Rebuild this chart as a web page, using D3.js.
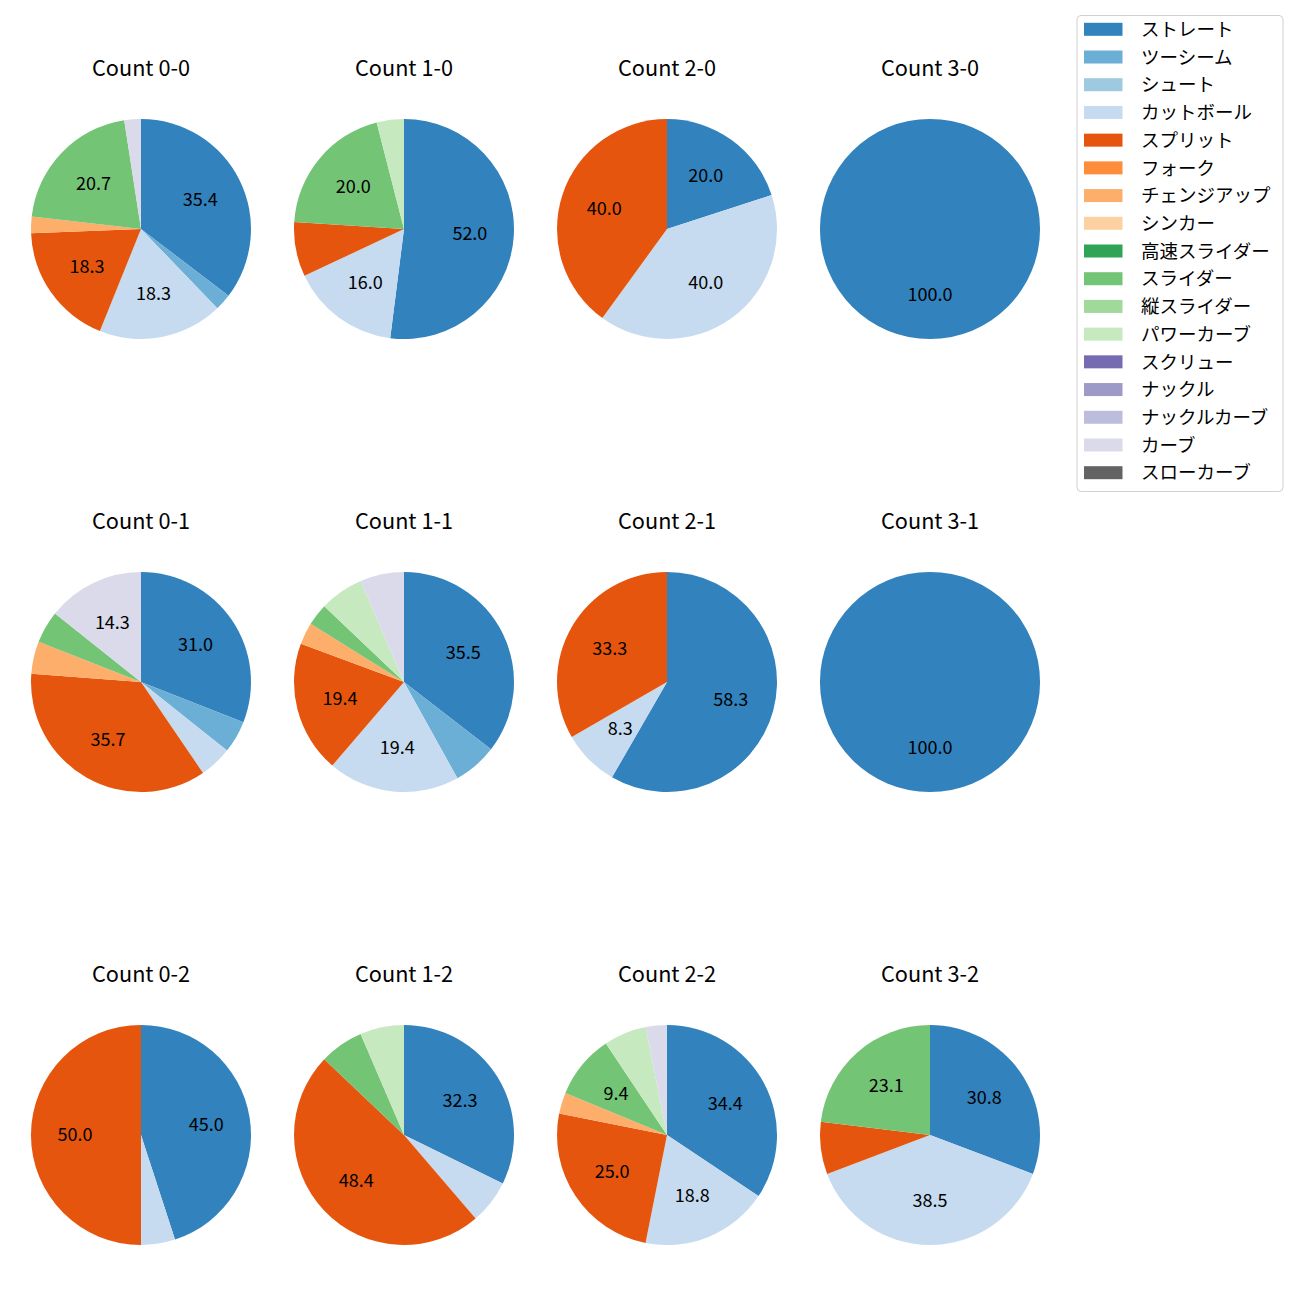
<!DOCTYPE html>
<html><head><meta charset="utf-8">
<script src="https://cdn.jsdelivr.net/npm/d3@7"></script>
<style>body{margin:0;background:#fff}svg{display:block}</style>
</head><body>
<script>
const pitchTypes = ["ストレート","ツーシーム","シュート","カットボール","スプリット","フォーク","チェンジアップ","シンカー","高速スライダー","スライダー","縦スライダー","パワーカーブ","スクリュー","ナックル","ナックルカーブ","カーブ","スローカーブ"];
const pitchColors = ["#3182bd","#6baed6","#9ecae1","#c6dbef","#e6550d","#fd8d3c","#fdae6b","#fdd0a2","#31a354","#74c476","#a1d99b","#c7e9c0","#756bb1","#9e9ac8","#bcbddc","#dadaeb","#636363"];
const countLabels = ["Count 0-0","Count 1-0","Count 2-0","Count 3-0","Count 0-1","Count 1-1","Count 2-1","Count 3-1","Count 0-2","Count 1-2","Count 2-2","Count 3-2"];
// pitch counts per pitch type (same order as pitchTypes)
const c00 = [29,2,0,15,15,0,2,0,0,17,0,0,0,0,0,2,0];
const c10 = [13,0,0,4,2,0,0,0,0,5,0,1,0,0,0,0,0];
const c20 = [1,0,0,2,2,0,0,0,0,0,0,0,0,0,0,0,0];
const c30 = [1,0,0,0,0,0,0,0,0,0,0,0,0,0,0,0,0];
const c01 = [13,2,0,2,15,0,2,0,0,2,0,0,0,0,0,6,0];
const c11 = [11,2,0,6,6,0,1,0,0,1,0,2,0,0,0,2,0];
const c21 = [7,0,0,1,4,0,0,0,0,0,0,0,0,0,0,0,0];
const c31 = [1,0,0,0,0,0,0,0,0,0,0,0,0,0,0,0,0];
const c02 = [9,0,0,1,10,0,0,0,0,0,0,0,0,0,0,0,0];
const c12 = [10,0,0,2,15,0,0,0,0,2,0,2,0,0,0,0,0];
const c22 = [11,0,0,6,8,0,1,0,0,3,0,2,0,0,0,1,0];
const c32 = [4,0,0,5,1,0,0,0,0,3,0,0,0,0,0,0,0];
const countValues = [c00,c10,c20,c30,c01,c11,c21,c31,c02,c12,c22,c32];
const labelMin = 8.1;

const W = 1300, H = 1300;
const font = "'Noto Sans CJK JP','Noto Sans',sans-serif";
const svg = d3.select("body").append("svg").attr("width",W).attr("height",H);
svg.append("rect").attr("width",W).attr("height",H).attr("fill","#fff");

const colX = d3.scalePoint().domain([0,1,2,3]).range([141,930]);
const rowY = d3.scalePoint().domain([0,1,2]).range([229,1135]);
const R = 110;
const color = d3.scaleOrdinal().domain(pitchTypes).range(pitchColors);
const pie = d3.pie().sort(null).value(d=>d.v).startAngle(0).endAngle(2*Math.PI);
const arc = d3.arc().innerRadius(0).outerRadius(R);
const labelArc = d3.arc().innerRadius(R*0.6).outerRadius(R*0.6);

countValues.forEach((vals,i)=>{
  const col = i%4, row = Math.floor(i/4);
  const cx = colX(col), cy = rowY(row);
  const total = d3.sum(vals);
  const data = pitchTypes.map((p,k)=>({p, v: vals[k]})).filter(d=>d.v>0);
  const g = svg.append("g").attr("transform",`translate(${cx},${cy})`);
  const arcs = pie(data);
  g.selectAll("path").data(arcs).join("path")
    .attr("d",arc).attr("fill",d=>color(d.data.p));
  g.selectAll("text.lbl").data(arcs.filter(d=>d.data.v/total*100>=labelMin)).join("text")
    .attr("class","lbl")
    .attr("transform",d=>`translate(${labelArc.centroid(d)})`)
    .attr("text-anchor","middle").attr("dy","0.36em")
    .attr("font-family",font).attr("font-size",18).attr("fill","#000")
    .text(d=>(d.data.v/total*100).toFixed(1));
  svg.append("text").attr("x",cx).attr("y",cy-153)
    .attr("text-anchor","middle").attr("font-family",font).attr("font-size",21.7)
    .attr("fill","#000").text(countLabels[i]);
});

// legend
const lg = svg.append("g");
lg.append("rect").attr("x",1077).attr("y",15.5).attr("width",206).attr("height",476)
  .attr("rx",4).attr("fill","#fff").attr("fill-opacity",0.8).attr("stroke","#d0d0d0").attr("stroke-width",1);
const ly = d3.scaleLinear().domain([0,16]).range([29.3,472.7]);
pitchTypes.forEach((p,k)=>{
  lg.append("rect").attr("x",1084).attr("y",ly(k)-6.5).attr("width",38.5).attr("height",13).attr("fill",color(p));
  lg.append("text").attr("x",1141).attr("y",ly(k)).attr("dy","0.36em")
    .attr("font-family",font).attr("font-size",18.5).attr("fill","#000").text(p);
});
</script>
</body></html>
